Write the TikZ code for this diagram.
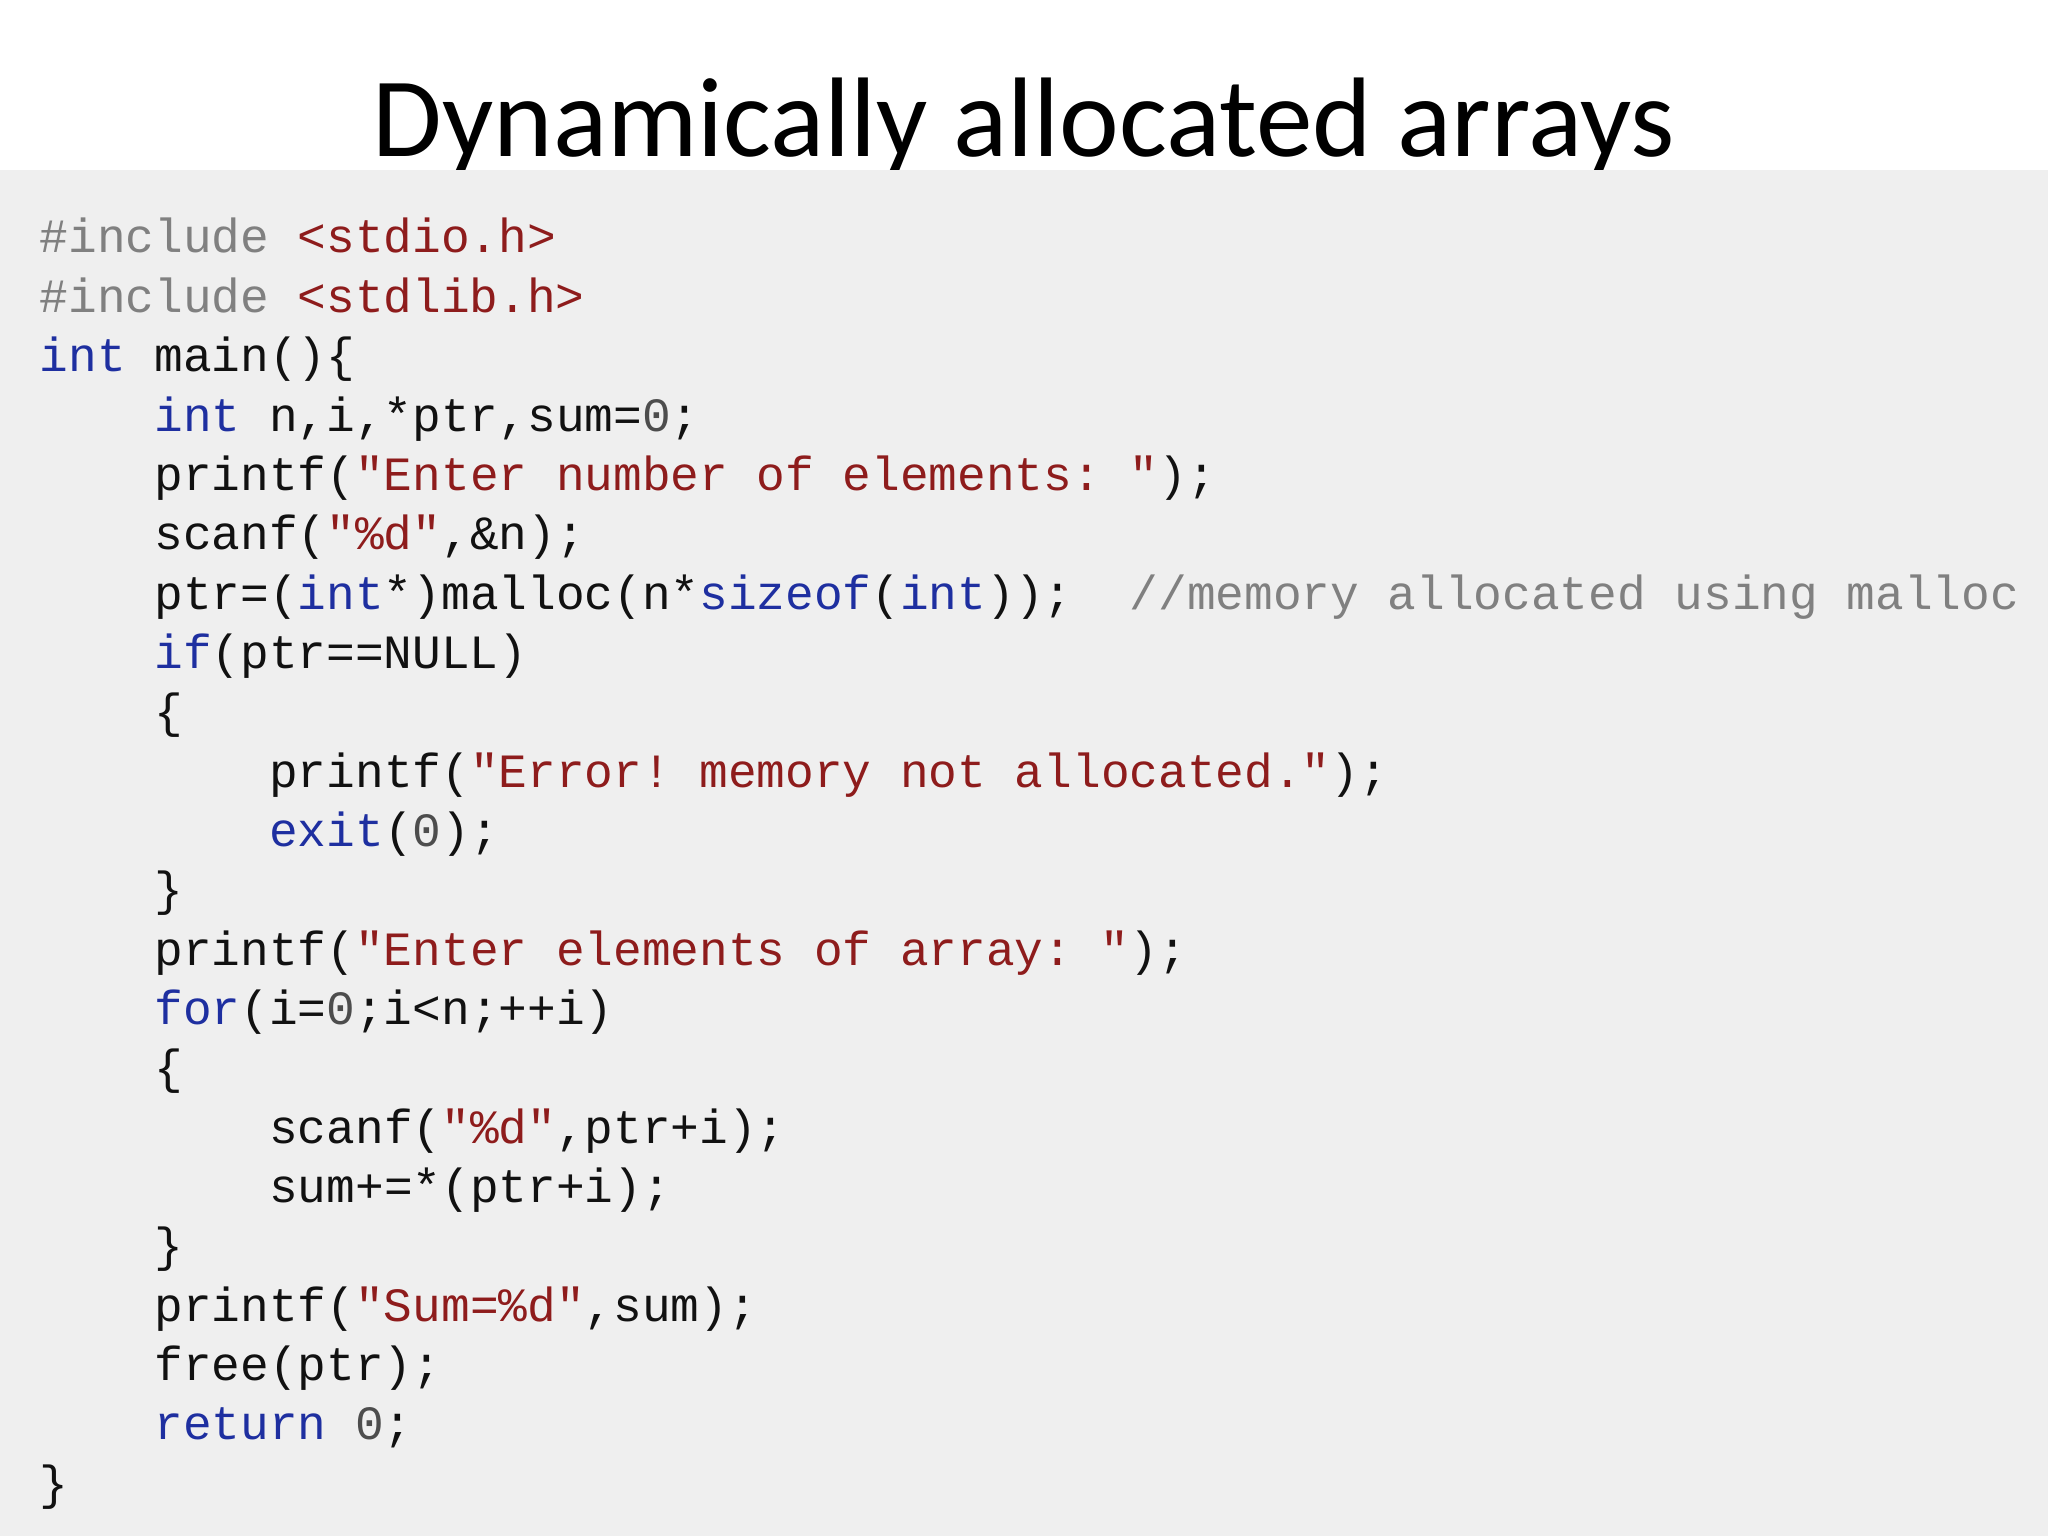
\documentclass[tikz,border=0pt]{standalone}
\usepackage{fontspec}
\setmainfont{Carlito}
\setmonofont{Liberation Mono}
\definecolor{bg}{HTML}{EFEFEF}
\definecolor{kwc}{HTML}{1E2FA0}
\definecolor{stc}{HTML}{8E1C1C}
\definecolor{ppc}{HTML}{808080}
\definecolor{txc}{HTML}{111111}
\newcommand{\kw}[1]{\textcolor{kwc}{#1}}
\newcommand{\st}[1]{\textcolor{stc}{#1}}
\newcommand{\pp}[1]{\textcolor{ppc}{#1}}
\newcommand{\nm}[1]{\textcolor{ppc!60!black}{#1}}
\begin{document}
\begin{tikzpicture}[x=1cm,y=1cm,
  code/.style={anchor=base west,inner sep=0pt,font=\ttfamily\fontsize{13.6pt}{16.9pt}\selectfont,text=txc}]
\useasboundingbox (0,0) rectangle (20.48,15.36);
\fill[white] (0,0) rectangle (20.48,15.36);
\node[anchor=base,inner sep=0pt,font=\fontsize{32.2pt}{36pt}\selectfont] (title) at (10.24,13.79) {Dynamically allocated arrays};
\fill[bg] (0,0) rectangle (20.48,13.66);
\def\ya{12.83}\def\dy{0.5935}
\def\xa{0.39}\def\ind{1.148}
\node[code] (l1) at (\xa,\ya-0*\dy) {\pp{\#include} \st{<stdio.h>}};
\node[code] (l2) at (\xa,\ya-1*\dy) {\pp{\#include} \st{<stdlib.h>}};
\node[code] (l3) at (\xa,\ya-2*\dy) {\kw{int} main()\{};
\node[code] (l4) at (\xa+\ind,\ya-3*\dy) {\kw{int} n,i,*ptr,sum=\nm{0};};
\node[code] (l5) at (\xa+\ind,\ya-4*\dy) {printf(\st{"Enter number of elements: "});};
\node[code] (l6) at (\xa+\ind,\ya-5*\dy) {scanf(\st{"\%d"},\&n);};
\node[code] (l7) at (\xa+\ind,\ya-6*\dy) {ptr=(\kw{int}*)malloc(n*\kw{sizeof}(\kw{int}));\ \ \pp{//memory allocated using malloc}};
\node[code] (l8) at (\xa+\ind,\ya-7*\dy) {\kw{if}(ptr==NULL)};
\node[code] (l9) at (\xa+\ind,\ya-8*\dy) {\{};
\node[code] (l10) at (\xa+2*\ind,\ya-9*\dy) {printf(\st{"Error! memory not allocated."});};
\node[code] (l11) at (\xa+2*\ind,\ya-10*\dy) {\kw{exit}(\nm{0});};
\node[code] (l12) at (\xa+\ind,\ya-11*\dy) {\}};
\node[code] (l13) at (\xa+\ind,\ya-12*\dy) {printf(\st{"Enter elements of array: "});};
\node[code] (l14) at (\xa+\ind,\ya-13*\dy) {\kw{for}(i=\nm{0};i<n;++i)};
\node[code] (l15) at (\xa+\ind,\ya-14*\dy) {\{};
\node[code] (l16) at (\xa+2*\ind,\ya-15*\dy) {scanf(\st{"\%d"},ptr+i);};
\node[code] (l17) at (\xa+2*\ind,\ya-16*\dy) {sum+=*(ptr+i);};
\node[code] (l18) at (\xa+\ind,\ya-17*\dy) {\}};
\node[code] (l19) at (\xa+\ind,\ya-18*\dy) {printf(\st{"Sum=\%d"},sum);};
\node[code] (l20) at (\xa+\ind,\ya-19*\dy) {free(ptr);};
\node[code] (l21) at (\xa+\ind,\ya-20*\dy) {\kw{return} \nm{0};};
\node[code] (l22) at (\xa,\ya-21*\dy) {\}};
\end{tikzpicture}
\end{document}
